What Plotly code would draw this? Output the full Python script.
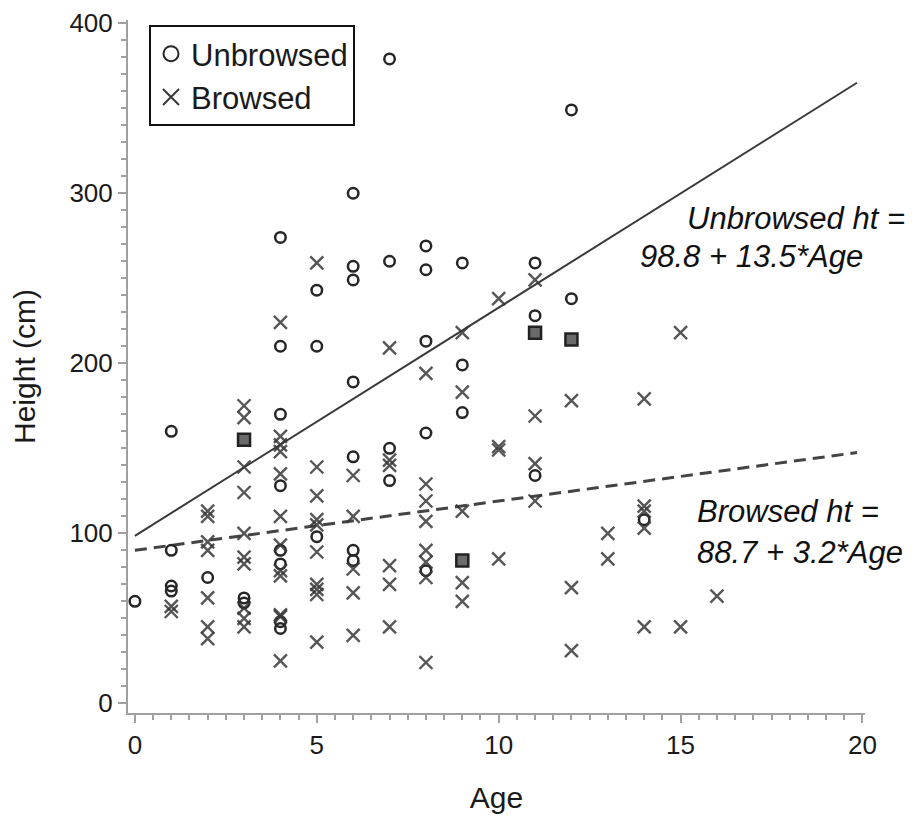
import plotly.graph_objects as go

# ---- Data ----
unbrowsed_age = [0,
                 1, 1, 1, 1,
                 2,
                 3, 3,
                 4, 4, 4, 4, 4, 4, 4, 4,
                 5, 5, 5,
                 6, 6, 6, 6, 6, 6, 6,
                 7, 7, 7, 7,
                 8, 8, 8, 8, 8,
                 9, 9, 9,
                 11, 11, 11,
                 12, 12,
                 14]
unbrowsed_ht = [60,
                160, 90, 69, 66,
                74,
                62, 59,
                274, 210, 170, 128, 90, 82, 48, 44,
                243, 210, 98,
                300, 257, 249, 189, 145, 90, 84,
                379, 260, 150, 131,
                269, 255, 213, 159, 78,
                259, 199, 171,
                259, 228, 134,
                349, 238,
                108]

browsed_age = [1, 1,
               2, 2, 2, 2, 2, 2, 2,
               3, 3, 3, 3, 3, 3, 3, 3, 3, 3,
               4, 4, 4, 4, 4, 4, 4, 4, 4, 4, 4, 4,
               5, 5, 5, 5, 5, 5, 5, 5, 5, 5,
               6, 6, 6, 6, 6,
               7, 7, 7, 7, 7, 7,
               8, 8, 8, 8, 8, 8, 8, 8,
               9, 9, 9, 9, 9,
               10, 10, 10, 10,
               11, 11, 11, 11,
               12, 12, 12,
               13, 13,
               14, 14, 14, 14, 14,
               15, 15,
               16]
browsed_ht = [57, 54,
              113, 110, 95, 90, 62, 45, 38,
              175, 168, 139, 124, 100, 86, 82, 56, 50, 45,
              224, 157, 152, 148, 135, 110, 93, 78, 75, 52, 51, 25,
              259, 139, 122, 108, 105, 89, 70, 67, 64, 36,
              134, 110, 79, 65, 40,
              209, 143, 140, 81, 70, 45,
              194, 129, 119, 107, 90, 83, 74, 24,
              218, 183, 113, 71, 60,
              238, 151, 149, 85,
              249, 169, 141, 119,
              178, 68, 31,
              100, 85,
              179, 116, 113, 103, 45,
              218, 45,
              63]

# overlapping circle + cross positions drawn as filled squares
overlap_age = [3, 9, 11, 12]
overlap_ht = [155, 84, 218, 214]

# fitted lines (end points as drawn)
fit_age = [0, 19.85]
unbrowsed_fit = [98.5, 365]
browsed_fit = [90, 147.5]

FONT = "Liberation Sans, Arial, sans-serif"
CIRCLE_C = "#262626"
CROSS_C = "#383838"

fig = go.Figure()

fig.add_trace(go.Scatter(
    x=fit_age, y=unbrowsed_fit, mode="lines", showlegend=False,
    line=dict(color="#3a3a3a", width=2), hoverinfo="skip"))
fig.add_trace(go.Scatter(
    x=fit_age, y=browsed_fit, mode="lines", showlegend=False,
    line=dict(color="#444444", width=3, dash="12px,7px"), hoverinfo="skip"))

fig.add_trace(go.Scatter(
    x=unbrowsed_age, y=unbrowsed_ht, mode="markers", name="Unbrowsed",
    showlegend=False,
    marker=dict(symbol="circle-open", size=10.5, color=CIRCLE_C,
                line=dict(width=2.5, color=CIRCLE_C))))
fig.add_trace(go.Scatter(
    x=browsed_age, y=browsed_ht, mode="markers", name="Browsed",
    showlegend=False,
    marker=dict(symbol="x-thin-open", size=13, color=CROSS_C,
                line=dict(width=2.4, color=CROSS_C), opacity=0.85)))
fig.add_trace(go.Scatter(
    x=overlap_age, y=overlap_ht, mode="markers", showlegend=False,
    marker=dict(symbol="square", size=12, color="#6a6a6a",
                line=dict(width=2.5, color="#222222"))))

# legend-only entries with larger symbols, as in the reference legend
fig.add_trace(go.Scatter(
    x=[None], y=[None], mode="markers", name="Unbrowsed",
    marker=dict(symbol="circle-open", size=15, color=CIRCLE_C,
                line=dict(width=2, color=CIRCLE_C))))
fig.add_trace(go.Scatter(
    x=[None], y=[None], mode="markers", name="Browsed",
    marker=dict(symbol="x-thin-open", size=16, color=CROSS_C,
                line=dict(width=2, color=CROSS_C))))

# page has an 8px body offset; geometry in page pixels
OFF = 8
W, H = 912, 814
L, T = 120, 12
pw, ph = 737, 693
R = W - L - pw
B = H - T - ph


def px(x):
    return (x - OFF - L) / pw


def py(y):
    return (T + ph - (y - OFF)) / ph


ann_font = dict(family=FONT, size=31, color="#111111")
for txt, xx, yy in [("<i>Unbrowsed ht =</i>", 685, 218),
                    ("<i>98.8 + 13.5*Age</i>", 638, 256),
                    ("<i>Browsed ht =</i>", 695, 512),
                    ("<i>88.7 + 3.2*Age</i>", 695, 552)]:
    fig.add_annotation(text=txt, xref="paper", yref="paper", x=px(xx), y=py(yy),
                       xanchor="left", yanchor="middle", showarrow=False,
                       font=ann_font)

axis_common = dict(showgrid=False, zeroline=False, showline=True,
                   linecolor="#a0a0a0", linewidth=2, ticks="outside",
                   tickcolor="#a0a0a0", tickwidth=2, ticklen=8,
                   tickfont=dict(family=FONT, size=26, color="#1a1a1a"),
                   title_font=dict(family=FONT, size=30, color="#1a1a1a"))

fig.update_layout(
    width=W, height=H,
    margin=dict(l=L, r=R, t=T, b=B, autoexpand=False),
    paper_bgcolor="white", plot_bgcolor="white",
    font=dict(family=FONT),
    xaxis=dict(range=[-0.19, 20.07], tickmode="array",
               tickvals=[0, 5, 10, 15, 20], ticktext=["0", "5", "10", "15", "20"],
               minor=dict(dtick=0.5, tick0=0, ticks="outside", ticklen=5,
                          tickcolor="#a0a0a0", tickwidth=2),
               title=dict(text="Age", standoff=28), **axis_common),
    yaxis=dict(range=[-5.7, 401.9], tickmode="array",
               tickvals=[0, 100, 200, 300, 400],
               ticktext=["0", "100", "200", "300", "400"],
               minor=dict(dtick=10, tick0=0, ticks="outside", ticklen=5,
                          tickcolor="#a0a0a0", tickwidth=2),
               title=dict(text="Height (cm)", standoff=25), **axis_common),
    legend=dict(x=px(149), y=py(25), xanchor="left", yanchor="top",
                bgcolor="white", bordercolor="#111111", borderwidth=2,
                font=dict(family=FONT, size=31, color="#1a1a1a"),
                itemsizing="trace", tracegroupgap=0),
)

fig.write_html("out.html")
